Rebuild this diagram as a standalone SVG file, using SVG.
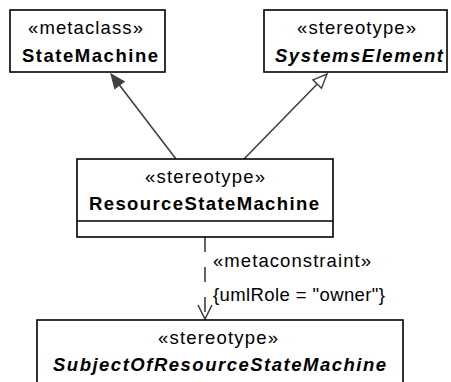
<svg xmlns="http://www.w3.org/2000/svg" width="451" height="382" viewBox="0 0 451 382">
  <style>
    .box { fill: #ffffff; stroke: #000000; stroke-width: 1.6; }
    .t { font-family: "Liberation Sans", Arial, sans-serif; font-size: 18.5px; fill: #000000; }
    .b { font-weight: bold; }
    .bi { font-weight: bold; font-style: italic; }
    .edge { fill: none; stroke: #404040; stroke-width: 1.6; }
    .dash { stroke-dasharray: 15 15; }
  </style>
  <defs>
    <marker id="filled" viewBox="0 0 16 14" refX="15" refY="7" markerWidth="16" markerHeight="14" markerUnits="userSpaceOnUse" orient="auto">
      <path d="M1,1 L15,7 L1,13 Z" fill="#404040" stroke="#404040" stroke-width="1"/>
    </marker>
    <marker id="hollow" viewBox="0 0 16 14" refX="15" refY="7" markerWidth="16" markerHeight="14" markerUnits="userSpaceOnUse" orient="auto">
      <path d="M1,1 L15,7 L1,13 Z" fill="#ffffff" stroke="#404040" stroke-width="1.4"/>
    </marker>
    <marker id="open" viewBox="0 0 16 16" refX="15" refY="8" markerWidth="16" markerHeight="16" markerUnits="userSpaceOnUse" orient="auto">
      <path d="M1,1 L15,8 L1,15" fill="none" stroke="#404040" stroke-width="1.6"/>
    </marker>
  </defs>

  <g id="connectors">
    <line class="edge" x1="176" y1="159" x2="111" y2="74" marker-end="url(#filled)"/>
    <line class="edge" x1="244" y1="159" x2="327" y2="74" marker-end="url(#hollow)"/>
    <line class="edge dash" x1="205" y1="237" x2="205" y2="319" marker-end="url(#open)"/>
    <text class="t" x="213" y="266.5" textLength="158" lengthAdjust="spacing">«metaconstraint»</text>
    <text class="t" x="213" y="301" textLength="172" lengthAdjust="spacing">{umlRole = "owner"}</text>
  </g>

  <g id="StateMachine">
    <rect class="box" x="10" y="10" width="155" height="62"/>
    <text class="t" x="28" y="33.5" textLength="115" lengthAdjust="spacing">«metaclass»</text>
    <text class="t b" x="22" y="62" textLength="136" lengthAdjust="spacing">StateMachine</text>
  </g>

  <g id="SystemsElement">
    <rect class="box" x="264" y="10" width="183" height="62"/>
    <text class="t" x="297" y="33.5" textLength="119" lengthAdjust="spacing">«stereotype»</text>
    <text class="t bi" x="275" y="62" textLength="168" lengthAdjust="spacing">SystemsElement</text>
  </g>

  <g id="ResourceStateMachine">
    <rect class="box" x="77" y="159" width="256" height="78"/>
    <line class="box" x1="77" y1="221" x2="333" y2="221"/>
    <text class="t" x="145" y="182.5" textLength="120" lengthAdjust="spacing">«stereotype»</text>
    <text class="t b" x="89" y="210" textLength="230" lengthAdjust="spacing">ResourceStateMachine</text>
  </g>

  <g id="SubjectOfResourceStateMachine">
    <rect class="box" x="37" y="320" width="366" height="70"/>
    <text class="t" x="158" y="343.5" textLength="120" lengthAdjust="spacing">«stereotype»</text>
    <text class="t bi" x="53" y="371" textLength="333" lengthAdjust="spacing">SubjectOfResourceStateMachine</text>
  </g>
</svg>
